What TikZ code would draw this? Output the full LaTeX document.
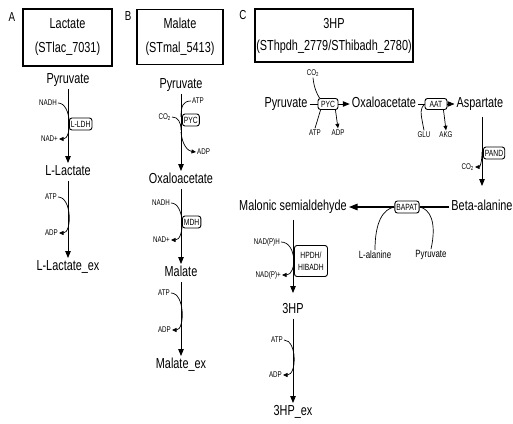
\documentclass[tikz,border=0pt]{standalone}
\usepackage{fontspec}
\setmainfont{Liberation Sans}[FakeStretch=0.75]
\usetikzlibrary{arrows.meta,calc}
\begin{document}
\begin{tikzpicture}[x=1pt,y=-1pt,
  met/.style={font=\fontsize{14.5}{16}\selectfont, inner sep=2pt, text height=10.5pt, text depth=3pt},
  sub/.style={font=\fontsize{10.5}{12}\selectfont, inner sep=1pt},
  cof/.style={font=\fontsize{8.3}{10}\selectfont, inner sep=1pt, text height=6pt, text depth=1pt},
  enz/.style={draw, rounded corners=2.5pt, line width=0.9pt, font=\fontsize{9}{10}\selectfont, inner sep=1.5pt, minimum height=12pt},
  titlebox/.style={draw, line width=1.2pt, align=center, inner sep=0pt},
  panel/.style={font=\fontsize{13}{15}\selectfont, inner sep=0pt},
  flux/.style={line width=0.9pt, -{Triangle[length=7pt,width=5.5pt]}},
  bigflux/.style={line width=1.3pt, -{Triangle[length=8.5pt,width=6.5pt]}},
  side/.style={line width=0.7pt},
  sidearrow/.style={line width=0.7pt, -{Triangle[length=4.5pt,width=4pt]}}]
\useasboundingbox (0,0) rectangle (513,423);

% ---------- Panel A ----------
\node[panel] (lA) at (12,17) {A};
\node[titlebox, minimum width=89pt, minimum height=57pt, font=\fontsize{14.5}{24}\selectfont] (tA) at (67.5,37.5) {Lactate\\(STlac\_7031)};
\node[met] (pyrA) at (68,80) {Pyruvate};
\node[met] (lacA) at (68,172) {L-Lactate};
\node[met] (lacexA) at (68,267) {L-Lactate\_ex};
\draw[flux] (pyrA) -- (lacA);
\draw[flux] (lacA) -- (lacexA);
\node[cof, anchor=east] (nadhA) at (58,103) {NADH};
\node[cof, anchor=east] (nadA) at (59,139) {NAD+};
\draw[sidearrow] (nadhA.east) .. controls (72,103) and (72,139) .. (nadA.east);
\node[enz, anchor=west] (ldhA) at (69,124) {L-LDH};
\node[cof, anchor=east] (atpA) at (58,197) {ATP};
\node[cof, anchor=east] (adpA) at (59,233) {ADP};
\draw[sidearrow] (atpA.east) .. controls (72,197) and (72,233) .. (adpA.east);

% ---------- Panel B ----------
\node[panel] (lB) at (128,16) {B};
\node[titlebox, minimum width=86pt, minimum height=55pt, font=\fontsize{14.5}{24}\selectfont] (tB) at (180,37) {Malate\\(STmal\_5413)};
\node[met] (pyrB) at (181,85) {Pyruvate};
\node[met] (oaaB) at (181,180) {Oxaloacetate};
\node[met] (malB) at (181,273) {Malate};
\node[met] (malexB) at (181,365) {Malate\_ex};
\draw[flux] (pyrB) -- (oaaB);
\draw[flux] (oaaB) -- (malB);
\draw[flux] (malB) -- (malexB);
\coordinate (bj1) at (181,117);
\coordinate (bj2) at (181,130);
\coordinate (bj3) at (181,132);
\node[cof, anchor=west] (atpB) at (191,101) {ATP};
\node[cof, anchor=east] (co2B) at (172,117) {CO\textsubscript{2}};
\node[cof, anchor=west] (adpB) at (196,152) {ADP};
\node[enz, anchor=west] (pycB) at (182,120) {PYC};
\draw[side] (atpB.west) .. controls (183,101) and (181,106) .. (bj1);
\draw[side] (co2B.east) .. controls (178,117) and (181,122) .. (bj2);
\draw[sidearrow] (bj3) .. controls (182,145) and (188,151) .. (adpB.west);
\node[cof, anchor=east] (nadhB) at (171,203) {NADH};
\node[cof, anchor=east] (nadB) at (171,240) {NAD+};
\draw[sidearrow] (nadhB.east) .. controls (185,203) and (185,240) .. (nadB.east);
\node[enz, anchor=west] (mdhB) at (182,222) {MDH};
\node[cof, anchor=east] (atpB2) at (171,293) {ATP};
\node[cof, anchor=east] (adpB2) at (172,330) {ADP};
\draw[sidearrow] (atpB2.east) .. controls (185,293) and (185,330) .. (adpB2.east);

% ---------- Panel C ----------
\node[panel] (lC) at (243,15) {C};
\node[titlebox, minimum width=158pt, minimum height=53pt, font=\fontsize{14.5}{22}\selectfont] (tC) at (334,35.5) {3HP\\(SThpdh\_2779/SThibadh\_2780)};
\node[met] (pyrC) at (286,104) {Pyruvate};
\node[met] (oaaC) at (384,104) {Oxaloacetate};
\node[met] (aspC) at (480,104) {Aspartate};
\node[enz, minimum width=20pt, minimum height=11pt] (pycC) at (328,104) {PYC};
\node[enz, minimum width=22pt, minimum height=11pt] (aatC) at (436,104) {AAT};
\draw[side] (pyrC) -- (pycC);
\draw[flux] (pycC) -- (oaaC);
\draw[side] (oaaC) -- (aatC);
\draw[flux] (aatC) -- (aspC);
\node[cof] (co2C) at (313,73) {CO\textsubscript{2}};
\node[cof] (atpC) at (315,133) {ATP};
\node[cof] (adpC) at (338,133) {ADP};
\draw[side] (co2C.south) .. controls (314,88) and (317,94) .. ($(pycC.north west)+(2,0)$);
\draw[side] (atpC.north) -- ($(pycC.south west)+(3,0)$);
\draw[sidearrow] ($(pycC.south east)+(-3,0)$) .. controls (336,114) .. (adpC.north);
\node[cof] (gluC) at (424,135) {GLU};
\node[cof] (akgC) at (446,135) {AKG};
\draw[side] (gluC.north) .. controls (420,110) .. (aatC.west);
\draw[sidearrow] ($(aatC.south east)+(-4,0)$) .. controls (444,114) .. (akgC.north);

\node[met] (betaC) at (482,207) {Beta-alanine};
\draw[flux, shorten <=4pt, shorten >=12pt] (aspC.south -| betaC.north) -- (betaC.north);
\node[enz, anchor=west] (pandC) at (483,153) {PAND};
\coordinate (cj1) at (482,152);
\node[cof, anchor=east] (co2P) at (475,167) {CO\textsubscript{2}};
\draw[sidearrow] (cj1) .. controls (482,162) and (480,167) .. (co2P.east);

\node[met] (malC) at (293,207) {Malonic semialdehyde};
\node[enz] (bapat) at (407,207) {BAPAT};
\draw[line width=1.3pt] (betaC.west) -- (bapat.east);
\draw[bigflux] (bapat.west) -- (malC.east);
\node[sub] (lalaC) at (375,255) {L-alanine};
\node[sub] (pyr2C) at (431,255) {Pyruvate};
\draw[side] (lalaC.north) .. controls (375,222) and (383,209) .. (bapat.west);
\draw[side] (bapat.east) .. controls (430,209) and (437,222) .. (pyr2C.north);

\node[met] (hpC) at (293,310) {3HP};
\node[met] (hpexC) at (293,412) {3HP\_ex};
\draw[flux, shorten <=4pt, shorten >=8pt] (malC) -- (hpC);
\draw[flux] (hpC) -- (hpexC);
\node[cof, anchor=east] (nadphC) at (281,242) {NAD(P)H};
\node[cof, anchor=east] (nadpC) at (282,275) {NAD(P)+};
\draw[sidearrow] (nadphC.east) .. controls (297,242) and (297,275) .. (nadpC.east);
\node[enz, anchor=west, align=center, font=\fontsize{9}{12}\selectfont, minimum width=33pt, minimum height=31pt] (hpdhC) at (294,261) {HPDH/\\HIBADH};
\node[cof, anchor=east] (atpC2) at (284,340) {ATP};
\node[cof, anchor=east] (adpC2) at (283,375) {ADP};
\draw[sidearrow] (atpC2.east) .. controls (297,340) and (297,375) .. (adpC2.east);
\end{tikzpicture}
\end{document}
